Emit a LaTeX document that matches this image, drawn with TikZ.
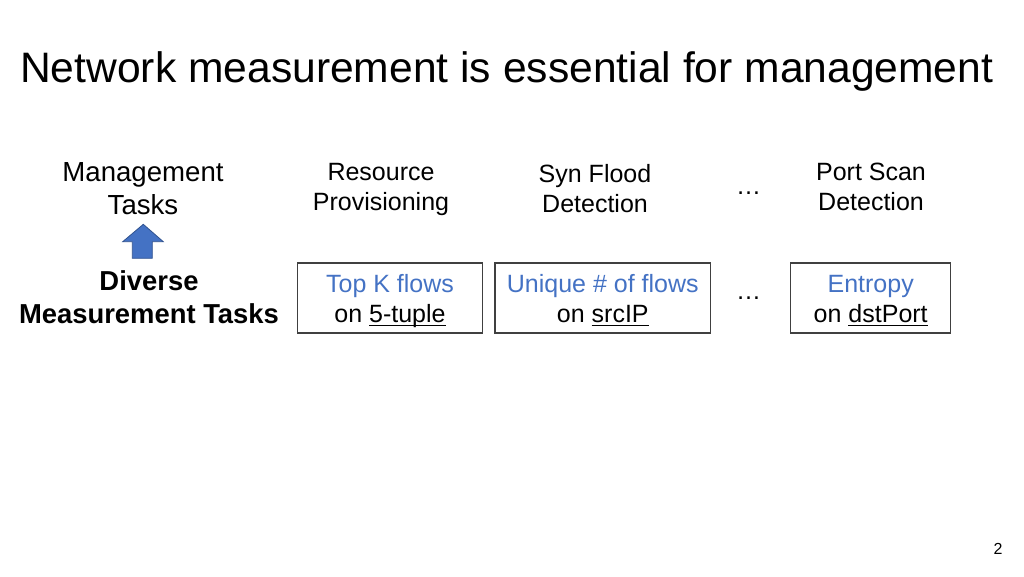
\documentclass[tikz,border=0pt]{standalone}
\usepackage{fontspec}
\setmainfont{Liberation Sans}
\definecolor{accent}{HTML}{4472C4}
\definecolor{accentdark}{HTML}{2F528F}
\definecolor{boxline}{HTML}{404040}
\newlength\ulw
\newcommand\myul[1]{\settowidth\ulw{#1}\rlap{\rule[-3pt]{\ulw}{1.4pt}}#1}
\newcommand\topstrut{\rule{0pt}{25.3pt}}
\newcommand\botstrut{\rule[-5.5pt]{0pt}{5.5pt}}
\begin{document}
\begin{tikzpicture}[x=1pt,y=-1pt,
  lbl/.style={align=center,inner sep=0pt,font=\fontsize{25}{30}\selectfont},
  taskbox/.style={draw=boxline,line width=1.2pt,minimum height=70pt,inner sep=0pt,align=center,font=\fontsize{25}{30}\selectfont},
  dots/.style={inner sep=0pt,font=\fontsize{25}{30}\selectfont}]
\useasboundingbox (0,0) rectangle (1024,576);
\node[anchor=base west,inner sep=0pt,font=\fontsize{42.6}{50}\selectfont] (title) at (20,82) {Network measurement is essential for management};
\node[lbl,font=\fontsize{27.6}{33}\selectfont] (mgmt) at (143,189) {Management\\Tasks};
\node[lbl] (res) at (381,189.5) {Resource\\Provisioning};
\node[lbl] (syn) at (595,189) {Syn Flood\\Detection};
\node[dots] (dtop) at (748.5,193.5) {\dots};
\node[lbl] (port) at (871,187) {Port Scan\\Detection};
\node[lbl,font=\fontsize{27.4}{33}\bfseries] (div) at (149,297) {Diverse\\Measurement Tasks};
\node[taskbox,minimum width=185pt] (b1) at (390,298) {\topstrut\textcolor{accent}{Top K flows}\\on \myul{5-tuple}\botstrut};
\node[taskbox,minimum width=215.5pt] (b2) at (602.8,298) {\topstrut\textcolor{accent}{Unique \# of flows}\\on \myul{srcIP}\botstrut};
\node[dots] (dbot) at (748.5,298.5) {\dots};
\node[taskbox,minimum width=160pt] (b3) at (870.7,298) {\topstrut\textcolor{accent}{Entropy}\\on \myul{dstPort}\botstrut};
\draw[fill=accent,draw=accentdark,line width=0.8pt,line join=miter]
  (143.3,224.3) -- (163.3,241.7) -- (152.3,241.7) -- (152.3,258.3) -- (132.3,258.3) -- (132.3,241.7) -- (122.7,241.7) -- cycle;
\node[inner sep=0pt,font=\fontsize{16}{19}\selectfont] (pg) at (998,549) {2};
\end{tikzpicture}
\end{document}
